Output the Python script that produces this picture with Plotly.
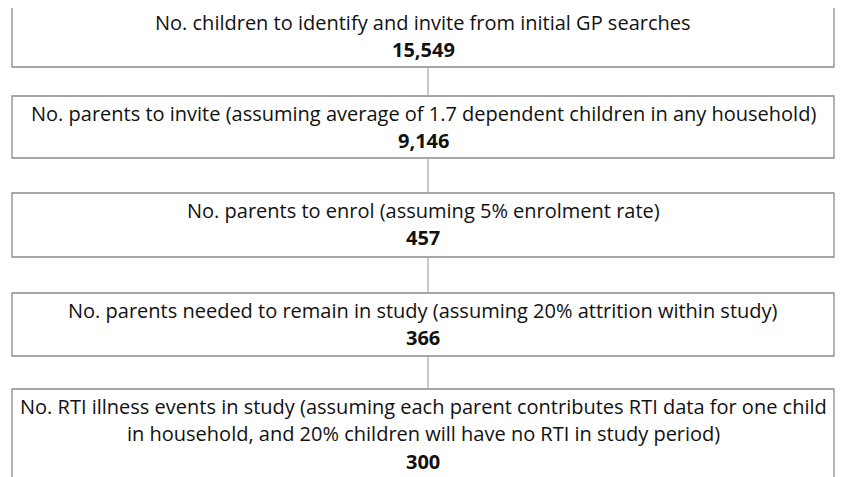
import plotly.graph_objects as go

# ---- data ----
step_labels = [
    ["No. children to identify and invite from initial GP searches"],
    ["No. parents to invite (assuming average of 1.7 dependent children in any household)"],
    ["No. parents to enrol (assuming 5% enrolment rate)"],
    ["No. parents needed to remain in study (assuming 20% attrition within study)"],
    ["No. RTI illness events in study (assuming each parent contributes RTI data for one child",
     "in household, and 20% children will have no RTI in study period)"],
]
step_values = [15549, 9146, 457, 366, 300]

# ---- layout constants (page pixels) ----
W, H = 844, 477
PAGE_OFFSET = 8  # default body margin of the html page
box_left, box_right = 12, 834
box_tops = [5, 96, 193, 293, 389]
box_heights = [62, 62, 64, 63, 120]
connector_x = 428
line_gap = 27.5
first_line_offset = 17
text_center_x = (box_left + box_right) / 2
FONT = "'Open Sans', sans-serif"
FS = 20

fig = go.Figure()
shapes = []
annotations = []

for i, (labels, val) in enumerate(zip(step_labels, step_values)):
    top = box_tops[i]
    bottom = top + box_heights[i]
    shapes.append(dict(type="rect", xref="x", yref="y",
                       x0=box_left, x1=box_right, y0=top, y1=bottom,
                       line=dict(color="#8a8a8a", width=1.3),
                       fillcolor="white", layer="below"))
    lines = list(labels) + [f"<b>{val:,}</b>"]
    for j, t in enumerate(lines):
        annotations.append(dict(x=text_center_x, y=top + first_line_offset + j * line_gap,
                                xref="x", yref="y", text=t, showarrow=False,
                                xanchor="center", yanchor="middle",
                                font=dict(family=FONT, size=FS, color="#111111")))
    if i < len(step_values) - 1:
        shapes.append(dict(type="line", xref="x", yref="y",
                           x0=connector_x, x1=connector_x,
                           y0=bottom, y1=box_tops[i + 1],
                           line=dict(color="#a6a6a6", width=1.2)))

fig.update_layout(
    width=W, height=H,
    margin=dict(l=0, r=0, t=0, b=0),
    paper_bgcolor="white", plot_bgcolor="white",
    xaxis=dict(range=[PAGE_OFFSET, W + PAGE_OFFSET], visible=False, fixedrange=True),
    yaxis=dict(range=[H + PAGE_OFFSET, PAGE_OFFSET], visible=False, fixedrange=True),
    shapes=shapes, annotations=annotations,
    showlegend=False,
)

fig.write_html("out.html")
